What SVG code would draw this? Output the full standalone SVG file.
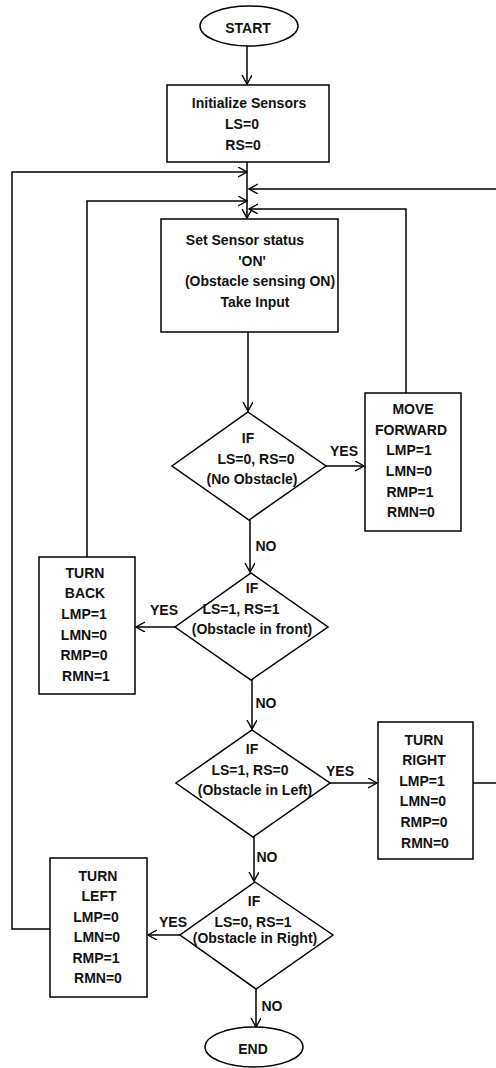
<svg xmlns="http://www.w3.org/2000/svg" width="496" height="1068" viewBox="0 0 496 1068">
<defs>
<marker id="arr" markerUnits="userSpaceOnUse" markerWidth="12" markerHeight="12" refX="9" refY="5" orient="auto">
<path d="M0,0 L9,5 L0,10" fill="none" stroke="#000" stroke-width="1.4"/>
</marker>
<style>
.s{fill:#fff;stroke:#000;stroke-width:1.5}
.c{fill:none;stroke:#000;stroke-width:1.5}
text{font-family:"Liberation Sans",Arial,sans-serif;font-weight:bold;font-size:14px;fill:#111;text-anchor:middle}
</style>
</defs>
<rect width="496" height="1068" fill="#fff"/>
<g id="connectors">
<path class="c" d="M247,46 V84" marker-end="url(#arr)"/>
<path class="c" d="M247,162 V218" marker-end="url(#arr)"/>
<path class="c" d="M50,929 H12 V172 H247" marker-end="url(#arr)"/>
<path class="c" d="M473,783 H500 V189 H249" marker-end="url(#arr)"/>
<path class="c" d="M87,557 V201 H247" marker-end="url(#arr)"/>
<path class="c" d="M406,393 V209 H249" marker-end="url(#arr)"/>
<path class="c" d="M248,332 V411" marker-end="url(#arr)"/>
<path class="c" d="M326,466 H364" marker-end="url(#arr)"/>
<path class="c" d="M250,520 V572" marker-end="url(#arr)"/>
<path class="c" d="M175,627 H136" marker-end="url(#arr)"/>
<path class="c" d="M252,680 V729" marker-end="url(#arr)"/>
<path class="c" d="M330,783 H377" marker-end="url(#arr)"/>
<path class="c" d="M254,837 V881" marker-end="url(#arr)"/>
<path class="c" d="M180,935 H148" marker-end="url(#arr)"/>
<path class="c" d="M256,989 V1027" marker-end="url(#arr)"/>
<text x="344" y="456">YES</text>
<text x="266" y="551">NO</text>
<text x="164" y="615">YES</text>
<text x="266" y="708">NO</text>
<text x="340" y="776">YES</text>
<text x="267" y="862">NO</text>
<text x="173" y="927">YES</text>
<text x="272" y="1011">NO</text>
</g>
<g id="start">
<ellipse class="s" cx="249" cy="26" rx="49" ry="20"/>
<text x="248" y="33">START</text>
</g>
<g id="init">
<rect class="s" x="167" y="85" width="162" height="77"/>
<text x="249" y="108">Initialize Sensors</text>
<text x="242" y="129">LS=0</text>
<text x="243" y="150">RS=0</text>
</g>
<g id="setsensor">
<rect class="s" x="161" y="219" width="177" height="113"/>
<text x="245" y="245">Set Sensor status</text>
<text x="252" y="266">'ON'</text>
<text x="260" y="286">(Obstacle sensing ON)</text>
<text x="255" y="307">Take Input</text>
</g>
<g id="dec1">
<polygon class="s" points="248,412 326,466 249,520 172,466"/>
<text x="248" y="443">IF</text>
<text x="256" y="464">LS=0, RS=0</text>
<text x="252" y="484">(No Obstacle)</text>
</g>
<g id="forward">
<rect class="s" x="365" y="393" width="96" height="138"/>
<text x="413" y="414">MOVE</text>
<text x="411" y="435">FORWARD</text>
<text x="409" y="455">LMP=1</text>
<text x="409" y="476">LMN=0</text>
<text x="410" y="497">RMP=1</text>
<text x="411" y="517">RMN=0</text>
</g>
<g id="dec2">
<polygon class="s" points="251,573 328,627 251,680 175,627"/>
<text x="252" y="593">IF</text>
<text x="241" y="614">LS=1, RS=1</text>
<text x="252" y="634">(Obstacle in front)</text>
</g>
<g id="turnback">
<rect class="s" x="39" y="557" width="96" height="137"/>
<text x="85" y="578">TURN</text>
<text x="85" y="598">BACK</text>
<text x="84" y="619">LMP=1</text>
<text x="84" y="640">LMN=0</text>
<text x="84" y="660">RMP=0</text>
<text x="86" y="681">RMN=1</text>
</g>
<g id="dec3">
<polygon class="s" points="252,730 330,783 253,837 176,783"/>
<text x="252" y="754">IF</text>
<text x="250" y="775">LS=1, RS=0</text>
<text x="255" y="795">(Obstacle in Left)</text>
</g>
<g id="turnright">
<rect class="s" x="378" y="722" width="95" height="137"/>
<text x="424" y="745">TURN</text>
<text x="424" y="765">RIGHT</text>
<text x="422" y="786">LMP=1</text>
<text x="423" y="806">LMN=0</text>
<text x="424" y="827">RMP=0</text>
<text x="425" y="848">RMN=0</text>
</g>
<g id="dec4">
<polygon class="s" points="255,882 333,935 256,989 180,935"/>
<text x="254" y="906">IF</text>
<text x="253" y="927">LS=0, RS=1</text>
<text x="255" y="943">(Obstacle in Right)</text>
</g>
<g id="turnleft">
<rect class="s" x="50" y="858" width="97" height="139"/>
<text x="98" y="881">TURN</text>
<text x="99" y="901">LEFT</text>
<text x="96" y="922">LMP=0</text>
<text x="97" y="942">LMN=0</text>
<text x="96" y="963">RMP=1</text>
<text x="98" y="983">RMN=0</text>
</g>
<g id="end">
<ellipse class="s" cx="254" cy="1047" rx="49" ry="20"/>
<text x="253" y="1054">END</text>
</g>
</svg>
